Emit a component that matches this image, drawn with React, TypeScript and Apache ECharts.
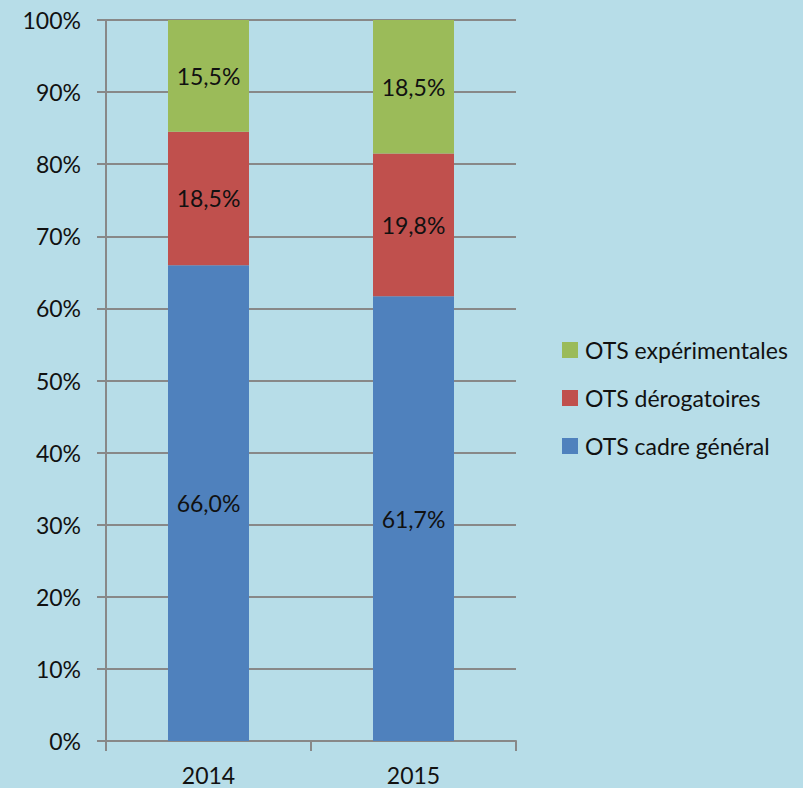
import React, { useEffect, useRef } from "react";
import * as echarts from "echarts";

const categories = ["2014", "2015"];
const cadreGeneral = [66.0, 61.7];
const derogatoires = [18.5, 19.8];
const experimentales = [15.5, 18.5];
const yTicks = [0, 10, 20, 30, 40, 50, 60, 70, 80, 90, 100];

const FONT = "Lato, 'Open Sans', sans-serif";
const FS = 23;

export default function App() {
  const ref = useRef<HTMLDivElement>(null);
  useEffect(() => {
    if (!ref.current) return;
    const chart = echarts.init(ref.current, undefined, { renderer: "svg" });
    const fmt = (p: any) => p.value.toFixed(1).replace(".", ",") + "%";
    const label = {
      show: true,
      position: "inside",
      formatter: fmt,
      color: "#111",
      fontSize: FS,
      fontFamily: FONT,
    };
    chart.setOption({
      animation: false,
      backgroundColor: "#b7dde8",
      grid: { left: 106, right: 287, top: 20, bottom: 47, containLabel: false },
      legend: {
        orient: "vertical",
        left: 557,
        top: 333,
        itemWidth: 16,
        itemHeight: 16,
        itemGap: 24,
        icon: "rect",
        data: ["OTS expérimentales", "OTS dérogatoires", "OTS cadre général"],
        textStyle: { fontSize: FS, color: "#111", fontFamily: FONT, padding: [0, 0, 0, 2], lineHeight: 24 },
      },
      xAxis: {
        type: "category",
        data: categories,
        axisLine: { lineStyle: { color: "#888888", width: 2 } },
        axisTick: { show: true, length: 10, lineStyle: { color: "#888888", width: 2 } },
        axisLabel: { color: "#111", fontSize: FS, fontFamily: FONT, margin: 22 },
      },
      yAxis: {
        type: "value",
        min: 0,
        max: 100,
        interval: 10,
        axisLine: { show: true, lineStyle: { color: "#888888", width: 2 } },
        axisTick: { show: true, length: 9, lineStyle: { color: "#888888", width: 2 } },
        axisLabel: {
          color: "#111",
          fontSize: FS,
          fontFamily: FONT,
          margin: 25,
          formatter: (v: number) => (yTicks.includes(v) ? v + "%" : ""),
        },
        splitLine: { lineStyle: { color: "#888888", width: 2 } },
      },
      series: [
        {
          name: "OTS cadre général",
          type: "bar",
          stack: "total",
          barWidth: 81,
          data: cadreGeneral,
          itemStyle: { color: "#4f81bd" },
          label,
        },
        {
          name: "OTS dérogatoires",
          type: "bar",
          stack: "total",
          barWidth: 81,
          data: derogatoires,
          itemStyle: { color: "#c0504d" },
          label,
        },
        {
          name: "OTS expérimentales",
          type: "bar",
          stack: "total",
          barWidth: 81,
          data: experimentales,
          itemStyle: { color: "#9bbb59" },
          label,
        },
      ],
    });
    return () => chart.dispose();
  }, []);
  return <div ref={ref} style={{ width: 803, height: 788, position: "absolute", left: 0, top: 0 }} />;
}
